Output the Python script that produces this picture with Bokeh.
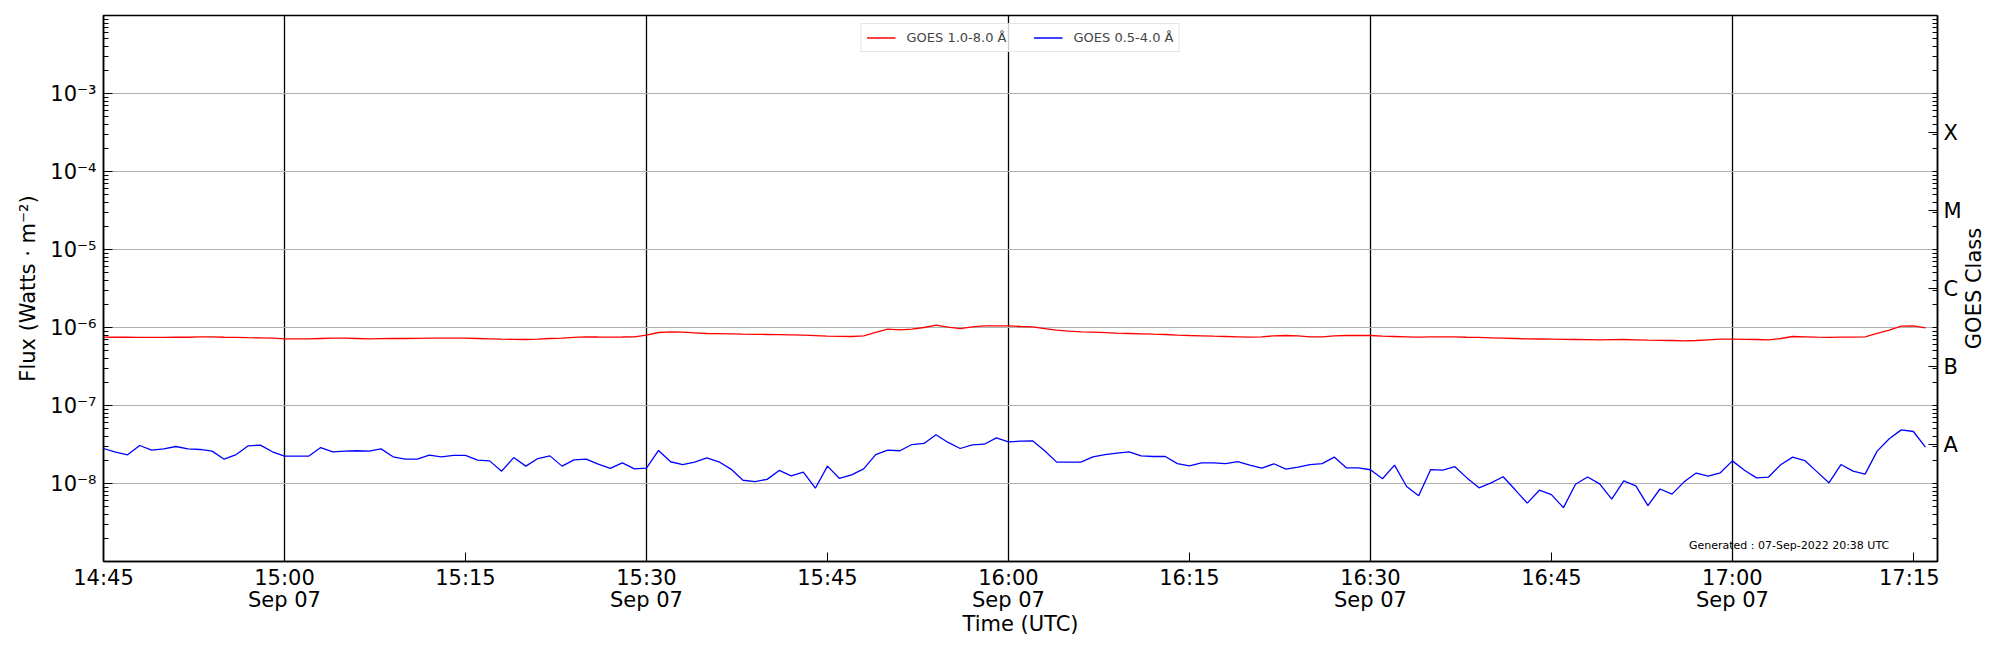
import math
from datetime import datetime, timedelta
from bokeh.plotting import figure
from bokeh.layouts import row
from bokeh.core.properties import value
from bokeh.models import (Range1d, LogScale, LogAxis, FixedTicker, Legend,
                          LegendItem, Label)
from bokeh.embed import file_html
from bokeh.resources import INLINE

# ---------------- data ----------------
start_time = datetime(2022, 9, 7, 14, 45)   # 1-minute cadence

# GOES 1.0-8.0 A flux, units of 1e-6 W m^-2
xrs_long = [
    0.752, 0.75, 0.75, 0.745, 0.745, 0.745, 0.75, 0.75, 0.76, 0.76, 0.75, 0.745, 0.74, 0.737, 0.73,
    0.716, 0.716, 0.716, 0.723, 0.73, 0.73, 0.723, 0.716, 0.72, 0.723, 0.723, 0.727, 0.73, 0.73, 0.73,
    0.73, 0.723, 0.716, 0.709, 0.705, 0.702, 0.709, 0.723, 0.73, 0.745, 0.76, 0.755, 0.752, 0.755, 0.76,
    0.80, 0.863, 0.88, 0.871, 0.854, 0.838, 0.834, 0.83, 0.821, 0.817, 0.813, 0.809, 0.805, 0.798, 0.786,
    0.774, 0.77, 0.767, 0.782, 0.863, 0.952, 0.934, 0.952, 1.0, 1.071, 1.01, 0.97, 1.02, 1.05, 1.05,
    1.05, 1.03, 1.02, 0.97, 0.924, 0.897, 0.88, 0.871, 0.858, 0.846, 0.838, 0.83, 0.821, 0.813, 0.80,
    0.79, 0.782, 0.774, 0.767, 0.76, 0.752, 0.76, 0.782, 0.79, 0.782, 0.76, 0.76, 0.782, 0.79, 0.79,
    0.79, 0.774, 0.767, 0.76, 0.752, 0.76, 0.76, 0.76, 0.75, 0.745, 0.737, 0.73, 0.723, 0.716, 0.712,
    0.709, 0.705, 0.702, 0.70, 0.695, 0.70, 0.702, 0.695, 0.688, 0.685, 0.681, 0.675, 0.681, 0.695, 0.709,
    0.709, 0.705, 0.702, 0.695, 0.723, 0.767, 0.76, 0.752, 0.745, 0.752, 0.752, 0.76, 0.838, 0.924, 1.04,
    1.05, 0.99,
]

# GOES 0.5-4.0 A flux, units of 1e-8 W m^-2
xrs_short = [
    2.81, 2.52, 2.33, 3.07, 2.68, 2.78, 2.98, 2.78, 2.73, 2.60, 2.05, 2.35, 3.04, 3.10, 2.55,
    2.24, 2.24, 2.24, 2.89, 2.55, 2.60, 2.63, 2.60, 2.78, 2.20, 2.05, 2.05, 2.31, 2.20, 2.29,
    2.29, 1.99, 1.95, 1.44, 2.15, 1.67, 2.09, 2.26, 1.67, 2.01, 2.05, 1.77, 1.56, 1.84, 1.54,
    1.57, 2.65, 1.90, 1.75, 1.88, 2.13, 1.90, 1.53, 1.10, 1.06, 1.13, 1.47, 1.25, 1.40, 0.87,
    1.67, 1.16, 1.29, 1.54, 2.35, 2.68, 2.63, 3.16, 3.26, 4.21, 3.36, 2.81, 3.13, 3.19, 3.85,
    3.42, 3.49, 3.52, 2.63, 1.88, 1.88, 1.88, 2.20, 2.35, 2.45, 2.55, 2.26, 2.22, 2.22, 1.80,
    1.68, 1.84, 1.84, 1.80, 1.91, 1.72, 1.57, 1.79, 1.53, 1.62, 1.75, 1.80, 2.18, 1.59, 1.59,
    1.50, 1.15, 1.72, 0.915, 0.695, 1.51, 1.48, 1.64, 1.18, 0.88, 1.02, 1.22, 0.83, 0.56, 0.82,
    0.72, 0.49, 0.98, 1.21, 0.99, 0.63, 1.08, 0.93, 0.52, 0.85, 0.73, 1.05, 1.36, 1.24, 1.37,
    1.95, 1.48, 1.18, 1.21, 1.74, 2.18, 1.97, 1.42, 1.02, 1.75, 1.44, 1.32, 2.60, 3.74, 4.87,
    4.64, 2.92,
]

series_names = ["GOES 1.0-8.0 Å", "GOES 0.5-4.0 Å"]
series_colors = ["red", "blue"]

# x tick labels (every 15 minutes)
xtick_minutes = [0, 15, 30, 45, 60, 75, 90, 105, 120, 135, 150]
xtick_labels = ["14:45", "15:00\nSep 07", "15:15", "15:30\nSep 07", "15:45",
                "16:00\nSep 07", "16:15", "16:30\nSep 07", "16:45",
                "17:00\nSep 07", "17:15"]
xgrid_minutes = [15, 45, 75, 105, 135]

# y ticks
ytick_values = [1e-8, 1e-7, 1e-6, 1e-5, 1e-4, 1e-3]
ytick_labels = ["10⁻⁸", "10⁻⁷", "10⁻⁶", "10⁻⁵", "10⁻⁴", "10⁻³"]
ygrid_values = [1e-9, 1e-8, 1e-7, 1e-6, 1e-5, 1e-4, 1e-3, 1e-2]

# GOES class axis
goes_class_labels = ["A", "B", "C", "M", "X"]
goes_class_centers = [10 ** -7.5, 10 ** -6.5, 10 ** -5.5, 10 ** -4.5, 10 ** -3.5]
goes_axis_title = "GOES Class"

generated_text = "Generated : 07-Sep-2022 20:38 UTC"

# ---------------- helpers ----------------
EPOCH = datetime(1970, 1, 1)


def to_ms(dt):
    return (dt - EPOCH).total_seconds() * 1000.0


times = [start_time + timedelta(minutes=i) for i in range(len(xrs_long))]
long_flux = [v * 1e-6 for v in xrs_long]
short_flux = [v * 1e-8 for v in xrs_short]

xtick_ms = [to_ms(start_time + timedelta(minutes=m)) for m in xtick_minutes]
xgrid_ms = [to_ms(start_time + timedelta(minutes=m)) for m in xgrid_minutes]

minor_left = [k * d for d in [1e-9, 1e-8, 1e-7, 1e-6, 1e-5, 1e-4, 1e-3] for k in range(2, 10)]
minor_right = [k * d for d in [1e-9, 1e-8, 1e-7, 1e-6, 1e-5, 1e-4, 1e-3] for k in range(1, 10)]

FONT = "DejaVu Sans"
H = 648
FRAME_TOP, FRAME_BOTTOM = 15, 561
Y_LO, Y_HI = 1e-9, 1e-2

p = figure(width=1939, height=H,
           x_axis_type="datetime", y_axis_type="log",
           x_range=Range1d(to_ms(start_time), to_ms(start_time + timedelta(minutes=152))),
           y_range=Range1d(Y_LO, Y_HI),
           output_backend="svg", toolbar_location=None,
           min_border_left=103, min_border_right=2,
           min_border_top=FRAME_TOP, min_border_bottom=H - FRAME_BOTTOM)
p.background_fill_color = "white"
p.border_fill_color = "white"
p.outline_line_color = "black"
p.outline_line_width = 1.5

# grids
p.xgrid.ticker = FixedTicker(ticks=xgrid_ms)
p.xgrid.grid_line_color = "black"
p.xgrid.grid_line_width = 1.3
p.ygrid.ticker = FixedTicker(ticks=ygrid_values)
p.ygrid.grid_line_color = "#b0b0b0"
p.ygrid.grid_line_width = 1.2

r_long = p.line(times, long_flux, line_color=series_colors[0], line_width=1.3)
r_short = p.line(times, short_flux, line_color=series_colors[1], line_width=1.3)


def style_axis(ax):
    ax.axis_line_color = "black"
    ax.axis_line_width = 1.5
    ax.major_tick_in = 9
    ax.major_tick_out = 0
    ax.minor_tick_in = 5
    ax.minor_tick_out = 0
    ax.major_tick_line_color = "black"
    ax.minor_tick_line_color = "black"
    ax.major_label_text_font = FONT
    ax.major_label_text_font_size = "21px"
    ax.major_label_text_color = "black"
    ax.axis_label_text_font = FONT
    ax.axis_label_text_font_size = "21px"
    ax.axis_label_text_font_style = "normal"
    ax.axis_label_text_color = "black"


# x axis
xa = p.xaxis[0]
style_axis(xa)
xa.ticker = FixedTicker(ticks=xtick_ms, minor_ticks=[])
xa.major_label_overrides = dict(zip(xtick_ms, xtick_labels))
xa.major_label_text_line_height = 0.95
xa.axis_label = "Time (UTC)"
xa.major_label_standoff = 4
xa.axis_label_standoff = -3

# left y axis
ya = p.yaxis[0]
style_axis(ya)
ya.ticker = FixedTicker(ticks=ytick_values, minor_ticks=minor_left)
ya.major_label_overrides = dict(zip(ytick_values, ytick_labels))
ya.axis_label = "Flux (Watts · m⁻²)"
ya.major_label_standoff = 7
ya.axis_label_standoff = 7

# right GOES class axis: ticks on the frame edge; its labels are drawn in the strip below
p.extra_y_ranges = {"cls": Range1d(Y_LO, Y_HI)}
p.extra_y_scales = {"cls": LogScale()}
ra = LogAxis(y_range_name="cls",
             ticker=FixedTicker(ticks=goes_class_centers, minor_ticks=minor_right))
style_axis(ra)
ra.major_label_overrides = {v: "" for v in goes_class_centers}
ra.major_label_text_font_size = "0px"
ra.major_label_standoff = 0
p.add_layout(ra, "right")

# legend
legend = Legend(items=[LegendItem(label=series_names[0], renderers=[r_long]),
                       LegendItem(label=series_names[1], renderers=[r_short])],
                location="top_center", orientation="horizontal")
legend.label_text_font = FONT
legend.label_text_font_size = "13px"
legend.glyph_width = 29
legend.glyph_height = 17
legend.label_height = 17
legend.label_standoff = 11
legend.spacing = 27
legend.padding = 5
legend.margin = 8
legend.border_line_color = "#cccccc"
legend.border_line_width = 1
legend.background_fill_color = "white"
legend.background_fill_alpha = 0.8
p.add_layout(legend)

gen = Label(x=to_ms(datetime(2022, 9, 7, 16, 56, 24)), y=1.6e-9, text=generated_text,
            text_font=FONT, text_font_size="11px", text_baseline="middle",
            text_align="left", text_color="black")
p.add_layout(gen)

# strip to the right: GOES class labels (same log scale as the plot) and the axis title
W2 = 53
p2 = figure(width=W2, height=H, x_range=Range1d(0, W2), y_range=Range1d(Y_LO, Y_HI),
            y_axis_type="log", output_backend="svg", toolbar_location=None,
            min_border_left=0, min_border_right=0,
            min_border_top=FRAME_TOP, min_border_bottom=H - FRAME_BOTTOM)
p2.axis.visible = False
p2.grid.visible = False
p2.outline_line_color = None
p2.background_fill_color = "white"
p2.border_fill_color = "white"
p2.text(x=[4] * len(goes_class_labels), y=goes_class_centers, text=goes_class_labels,
        text_align="left", text_baseline="middle",
        text_font=value(FONT), text_font_size="21px", text_color="black")
p2.text(x=[34], y=[10 ** -5.5], text=[goes_axis_title],
        angle=math.pi / 2, text_align="center", text_baseline="middle",
        text_font=value(FONT), text_font_size="21px", text_color="black")

layout = row(p, p2, spacing=0)
open("out.html", "w").write(file_html(layout, INLINE))
